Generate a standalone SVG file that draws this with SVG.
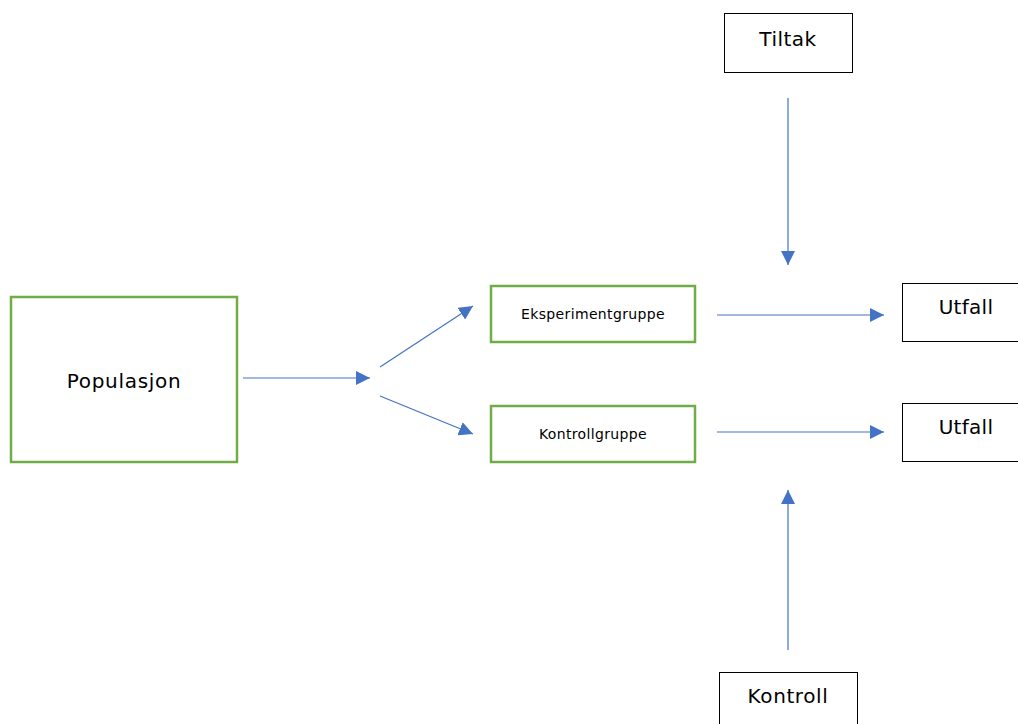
<svg xmlns="http://www.w3.org/2000/svg" width="1018" height="724" viewBox="0 0 1018 724">
<style>
.g{fill:#fff;stroke:#70AD47;stroke-width:2.5}
.b{fill:#fff;stroke:#000;stroke-width:1}
text{font-family:"DejaVu Sans","Liberation Sans",sans-serif;fill:#000;text-anchor:middle}
.s{font-size:14px;letter-spacing:0.35px}
.l{font-size:20px;letter-spacing:0.5px}
.c line{stroke:#4472C4;stroke-width:1.2;marker-end:url(#ah)}
</style>
<defs>
<marker id="ah" viewBox="0 0 10 10" refX="10" refY="5" markerWidth="14" markerHeight="14" markerUnits="userSpaceOnUse" orient="auto">
<path d="M0,0 L10,5 L0,10 z" fill="#4472C4"/>
</marker>
</defs>
<rect width="1018" height="724" fill="#fff"/>
<g id="populasjon"><rect class="g" x="11" y="297" width="226" height="165"/><text class="l" x="124" y="388" style="letter-spacing:0.7px">Populasjon</text></g>
<g id="eksperimentgruppe"><rect class="g" x="491" y="286" width="204" height="56"/><text class="s" x="593" y="319">Eksperimentgruppe</text></g>
<g id="kontrollgruppe"><rect class="g" x="491" y="406" width="204" height="56"/><text class="s" x="593" y="439">Kontrollgruppe</text></g>
<g id="tiltak"><rect class="b" x="724.5" y="13.5" width="128" height="59"/><text class="l" x="788" y="46">Tiltak</text></g>
<g id="utfall1"><rect class="b" x="902.5" y="283.5" width="120" height="58"/><text class="l" x="966" y="314" style="letter-spacing:0.3px">Utfall</text></g>
<g id="utfall2"><rect class="b" x="902.5" y="403.5" width="120" height="58"/><text class="l" x="966" y="434" style="letter-spacing:0.3px">Utfall</text></g>
<g id="kontroll"><rect class="b" x="719.5" y="672.5" width="138" height="60"/><text class="l" x="788" y="703" style="letter-spacing:0.6px">Kontroll</text></g>
<g class="c" id="connectors">
<line x1="243" y1="378" x2="370" y2="378"/>
<line x1="380" y1="367" x2="473" y2="306"/>
<line x1="380" y1="396" x2="473" y2="434"/>
<line x1="717" y1="315" x2="884" y2="315"/>
<line x1="717" y1="432" x2="884" y2="432"/>
<line x1="788" y1="98" x2="788" y2="265"/>
<line x1="788" y1="650" x2="788" y2="490"/>
</g>
</svg>
